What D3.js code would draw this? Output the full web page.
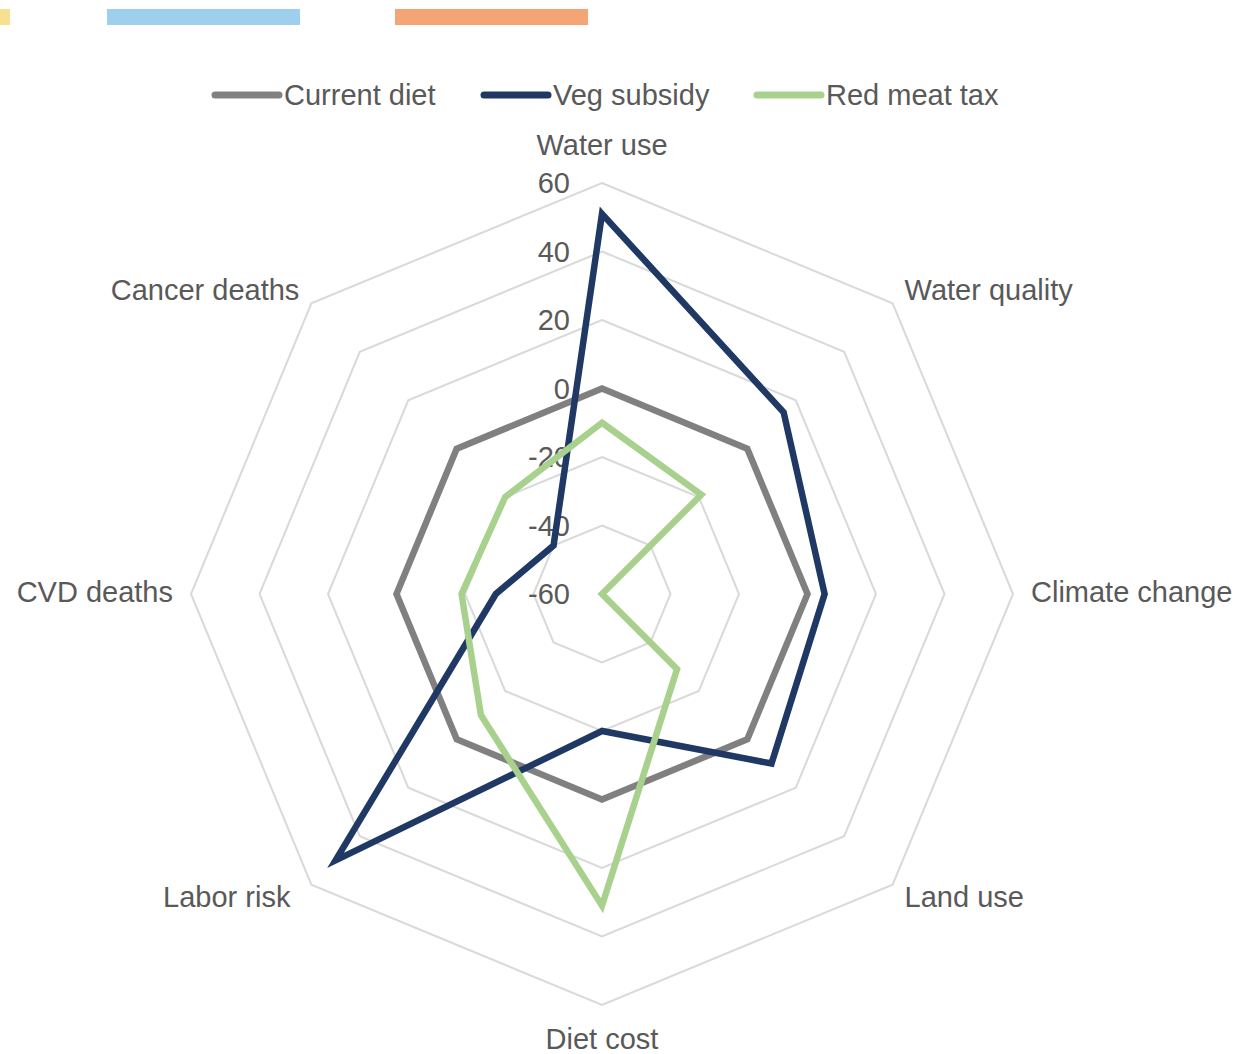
<!DOCTYPE html>
<html>
<head>
<meta charset="utf-8">
<script src="https://cdn.jsdelivr.net/npm/d3@7"></script>
<style>
  body { margin: 0; background: #fff; }
  svg text { font-family: "Liberation Sans", Arial, sans-serif; fill: #595959; }
</style>
</head>
<body>
<div id="chart"></div>
<script>
const width = 1239;
const height = 1054;

const axes = ["Water use", "Water quality", "Climate change", "Land use",
  "Diet cost", "Labor risk", "CVD deaths", "Cancer deaths"];
const seriesNames = ["Current diet", "Veg subsidy", "Red meat tax"];
const currentDiet = [0, 0, 0, 0, 0, 0, 0, 0];
const vegSubsidy = [51, 15, 5, 10, -20, 50, -29, -40];
const redMeatTax = [-10, -19, -60, -29, 31, -10, -19, -20];
const ticks = [-60, -40, -20, 0, 20, 40, 60];
const colors = ["#808080", "#1f3864", "#a9d18e"];

// leftover strip of another legend at the top edge
const stripColors = ["#f8e08e", "#9fcfef", "#f4a576"];
const stripX = [[-5, 10], [107, 300], [395, 588]];

const svg = d3.select("#chart")
  .append("svg")
  .attr("width", width)
  .attr("height", height);

svg.selectAll("rect.strip")
  .data(stripX)
  .enter().append("rect")
  .attr("class", "strip")
  .attr("x", d => d[0])
  .attr("y", 9)
  .attr("width", d => d[1] - d[0])
  .attr("height", 16)
  .attr("fill", (d, i) => stripColors[i]);

const cx = 602, cy = 594;
const r = d3.scaleLinear().domain([-60, 60]).range([0, 411]);
const angle = d3.scaleLinear().domain([0, axes.length]).range([0, 2 * Math.PI]);

const pt = (i, v) => [cx + r(v) * Math.sin(angle(i)), cy - r(v) * Math.cos(angle(i))];

const g = svg.append("g");

// grid rings
g.selectAll("path.ring")
  .data(ticks.filter(t => t > -60))
  .enter().append("path")
  .attr("class", "ring")
  .attr("d", t => d3.line()(axes.map((a, i) => pt(i, t))) + "Z")
  .attr("fill", "none")
  .attr("stroke", "#d9d9d9")
  .attr("stroke-width", 2);

// tick labels
g.selectAll("text.tick")
  .data(ticks)
  .enter().append("text")
  .attr("class", "tick")
  .attr("x", cx - 32)
  .attr("y", t => cy - r(t))
  .attr("dy", "0.35em")
  .attr("text-anchor", "end")
  .style("font-size", "29px")
  .text(t => t);

// series
const data = [currentDiet, vegSubsidy, redMeatTax];
g.selectAll("path.series")
  .data(data)
  .enter().append("path")
  .attr("class", "series")
  .attr("d", vals => d3.line()(vals.map((v, i) => pt(i, v))) + "Z")
  .attr("fill", "none")
  .attr("stroke", (d, i) => colors[i])
  .attr("stroke-width", 6.5)
  .attr("stroke-linejoin", "miter");

// axis labels
const labelPos = [
  { dx: 0, dy: -38, anchor: "middle" },
  { dx: 12, dy: -14, anchor: "start" },
  { dx: 18, dy: -2, anchor: "start" },
  { dx: 12, dy: 12, anchor: "start" },
  { dx: 0, dy: 34, anchor: "middle" },
  { dx: -21, dy: 12, anchor: "end" },
  { dx: -18, dy: -2, anchor: "end" },
  { dx: -12, dy: -14, anchor: "end" }
];
g.selectAll("text.axis")
  .data(axes)
  .enter().append("text")
  .attr("class", "axis")
  .attr("x", (d, i) => pt(i, 60)[0] + labelPos[i].dx)
  .attr("y", (d, i) => pt(i, 60)[1] + labelPos[i].dy)
  .attr("dy", "0.35em")
  .attr("text-anchor", (d, i) => labelPos[i].anchor)
  .style("font-size", "29px")
  .text(d => d);

// legend
const legendX = [212, 481, 754];
const legend = svg.append("g").attr("transform", "translate(0,95)");
const item = legend.selectAll("g")
  .data(seriesNames)
  .enter().append("g")
  .attr("transform", (d, i) => `translate(${legendX[i]},0)`);
item.append("line")
  .attr("x1", 3).attr("x2", 67)
  .attr("stroke", (d, i) => colors[i])
  .attr("stroke-width", 7)
  .attr("stroke-linecap", "round");
item.append("text")
  .attr("x", 72)
  .attr("dy", "0.35em")
  .style("font-size", "29px")
  .text(d => d);
</script>
</body>
</html>
